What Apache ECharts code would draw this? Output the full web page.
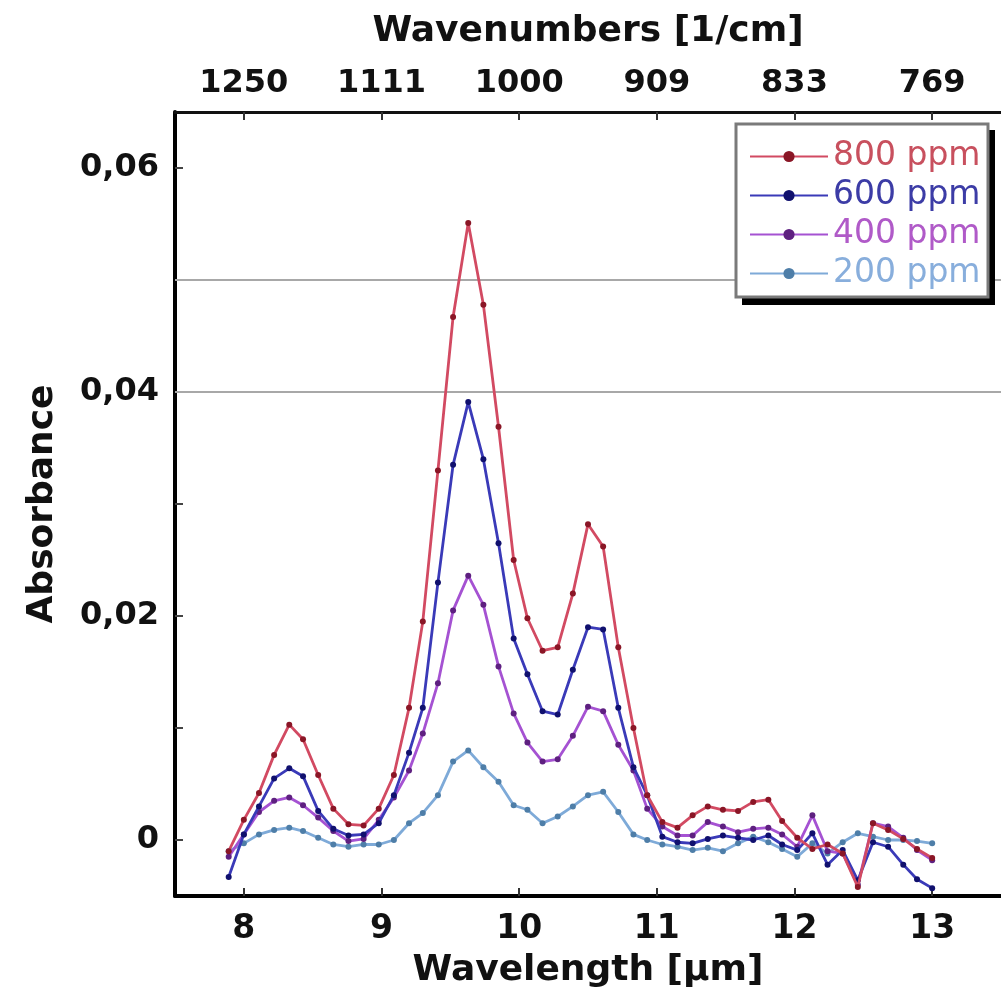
<!DOCTYPE html>
<html>
<head>
<meta charset="utf-8">
<script src="https://cdn.jsdelivr.net/npm/echarts@6/dist/echarts.min.js"></script>
<style>html,body{margin:0;padding:0;background:#fff}#c{width:1001px;height:996px}</style>
</head>
<body>
<div id="c"></div>
<script>
const wavelength = [7.89,8.00,8.11,8.22,8.33,8.43,8.54,8.65,8.76,8.87,8.98,9.09,9.20,9.30,9.41,9.52,9.63,9.74,9.85,9.96,10.06,10.17,10.28,10.39,10.50,10.61,10.72,10.83,10.93,11.04,11.15,11.26,11.37,11.48,11.59,11.70,11.81,11.91,12.02,12.13,12.24,12.35,12.46,12.57,12.68,12.79,12.89,13.00];
const ppm800 = [-0.0010,0.0018,0.0042,0.0076,0.0103,0.0090,0.0058,0.0028,0.0014,0.0013,0.0028,0.0058,0.0118,0.0195,0.0330,0.0467,0.0551,0.0478,0.0369,0.0250,0.0198,0.0169,0.0172,0.0220,0.0282,0.0262,0.0172,0.0100,0.0040,0.0016,0.0011,0.0022,0.0030,0.0027,0.0026,0.0034,0.0036,0.0017,0.0002,-0.0008,-0.0004,-0.0012,-0.0042,0.0015,0.0009,0.0001,-0.0008,-0.0016];
const ppm600 = [-0.0033,0.0005,0.0030,0.0055,0.0064,0.0057,0.0026,0.0010,0.0004,0.0005,0.0015,0.0040,0.0078,0.0118,0.0230,0.0335,0.0391,0.0340,0.0265,0.0180,0.0148,0.0115,0.0112,0.0152,0.0190,0.0188,0.0118,0.0065,0.0040,0.0003,-0.0002,-0.0003,0.0001,0.0004,0.0002,0.0000,0.0004,-0.0004,-0.0009,0.0006,-0.0022,-0.0009,-0.0036,-0.0002,-0.0006,-0.0022,-0.0035,-0.0043];
const ppm400 = [-0.0015,0.0005,0.0025,0.0035,0.0038,0.0031,0.0020,0.0008,-0.0001,0.0001,0.0018,0.0038,0.0062,0.0095,0.0140,0.0205,0.0236,0.0210,0.0155,0.0113,0.0087,0.0070,0.0072,0.0093,0.0119,0.0115,0.0085,0.0062,0.0028,0.0012,0.0004,0.0004,0.0016,0.0012,0.0007,0.0010,0.0011,0.0005,-0.0006,0.0022,-0.0010,-0.0012,-0.0040,0.0015,0.0012,0.0002,-0.0009,-0.0018];
const ppm200 = [-0.0010,-0.0003,0.0005,0.0009,0.0011,0.0008,0.0002,-0.0004,-0.0006,-0.0004,-0.0004,0.0000,0.0015,0.0024,0.0040,0.0070,0.0080,0.0065,0.0052,0.0031,0.0027,0.0015,0.0021,0.0030,0.0040,0.0043,0.0025,0.0005,0.0000,-0.0004,-0.0006,-0.0009,-0.0007,-0.0010,-0.0003,0.0003,-0.0002,-0.0008,-0.0015,-0.0003,-0.0012,-0.0002,0.0006,0.0003,0.0000,0.0000,-0.0001,-0.0003];
const seriesNames = ['800 ppm','600 ppm','400 ppm','200 ppm'];
const bottomTicks = [8,9,10,11,12,13];
const topTickLabels = ['1250','1111','1000','909','833','769'];
const yLabelValues = [0,0.02,0.04,0.06];
const yTickValues = [0,0.01,0.02,0.03,0.04,0.05,0.06];
const gridLineValues = [0.04,0.05];

const lineColors = ['#d24a62','#3a3ab8','#a552d2','#7eaad8'];
const markColors = ['#8a1626','#10106e','#5e2080','#4e7ea8'];
const textColors = ['#c8505e','#3c3ca6','#b05ac8','#88aedc'];
const FONT = 'DejaVu Sans';

const dataSets = [ppm800, ppm600, ppm400, ppm200];
const series = dataSets.map((arr, k) => ({
  name: seriesNames[k],
  type: 'line',
  data: wavelength.map((x, i) => [x, arr[i]]),
  symbol: 'circle',
  symbolSize: 6,
  z: 5 - k,
  lineStyle: { color: lineColors[k], width: 2.8 },
  itemStyle: { color: markColors[k] },
  emphasis: { disabled: true }
}));
series.push({
  name: 'grid', type: 'line', data: [], silent: true,
  markLine: {
    silent: true, symbol: ['none','none'], label: { show: false },
    lineStyle: { color: '#a8a8a8', width: 2, type: 'solid' },
    data: gridLineValues.map(v => ({ yAxis: v }))
  }
});

const chart = echarts.init(document.getElementById('c'), null, { renderer: 'canvas' });
chart.setOption({
  animation: false,
  backgroundColor: '#ffffff',
  grid: { left: 175, right: -4, top: 112, bottom: 100, containLabel: false },
  graphic: [
    { type: 'rect', z: 30, silent: true, shape: { x: 742, y: 130, width: 253, height: 175 }, style: { fill: '#000' } },
    { type: 'rect', z: 31, silent: true, shape: { x: 736, y: 124, width: 252, height: 173 }, style: { fill: '#fff', stroke: '#7a7a7a', lineWidth: 3 } }
  ],
  legend: {
    orient: 'vertical', left: 749, top: 140, z: 40,
    padding: 0, itemGap: 6,
    itemWidth: 78, itemHeight: 14,
    data: seriesNames.map((n, k) => ({ name: n, textStyle: { color: textColors[k] } })),
    textStyle: { fontFamily: FONT, fontSize: 33, lineHeight: 33 }
  },
  xAxis: [
    {
      type: 'value', position: 'bottom', min: 7.5, max: 13.5,
      name: 'Wavelength [µm]', nameLocation: 'middle', nameGap: 57,
      nameTextStyle: { fontFamily: FONT, fontWeight: 'bold', fontSize: 36, color: '#111' },
      axisLine: { onZero: false, lineStyle: { color: '#000', width: 4 } },
      axisTick: { inside: true, length: 8, customValues: bottomTicks, lineStyle: { color: '#333', width: 2 } },
      axisLabel: { customValues: bottomTicks, margin: 17, fontFamily: FONT, fontWeight: 'bold', fontSize: 33, color: '#111' },
      splitLine: { show: false }
    },
    {
      type: 'value', position: 'top', min: 7.5, max: 13.5,
      name: 'Wavenumbers [1/cm]', nameLocation: 'middle', nameGap: 62,
      nameTextStyle: { fontFamily: FONT, fontWeight: 'bold', fontSize: 36, color: '#111' },
      axisLine: { onZero: false, lineStyle: { color: '#111', width: 3 } },
      axisTick: { inside: true, length: 8, customValues: bottomTicks, lineStyle: { color: '#333', width: 2 } },
      axisLabel: {
        customValues: bottomTicks, margin: 12, fontFamily: FONT, fontWeight: 'bold', fontSize: 32, color: '#111',
        formatter: v => topTickLabels[bottomTicks.indexOf(Math.round(v))] || ''
      },
      splitLine: { show: false }
    }
  ],
  yAxis: {
    type: 'value', min: -0.005, max: 0.065,
    name: 'Absorbance', nameLocation: 'middle', nameGap: 114, nameRotate: 90,
    nameTextStyle: { fontFamily: FONT, fontWeight: 'bold', fontSize: 36, color: '#111' },
    axisLine: { show: true, onZero: false, lineStyle: { color: '#000', width: 4 } },
    axisTick: { show: true, inside: true, length: 8, customValues: yTickValues, lineStyle: { color: '#444', width: 2 } },
    axisLabel: {
      customValues: yLabelValues, margin: 16, fontFamily: FONT, fontWeight: 'bold', fontSize: 32, color: '#111',
      formatter: v => v === 0 ? '0' : v.toFixed(2).replace('.', ',')
    },
    splitLine: { show: false }
  },
  series: series
});
</script>
</body>
</html>
